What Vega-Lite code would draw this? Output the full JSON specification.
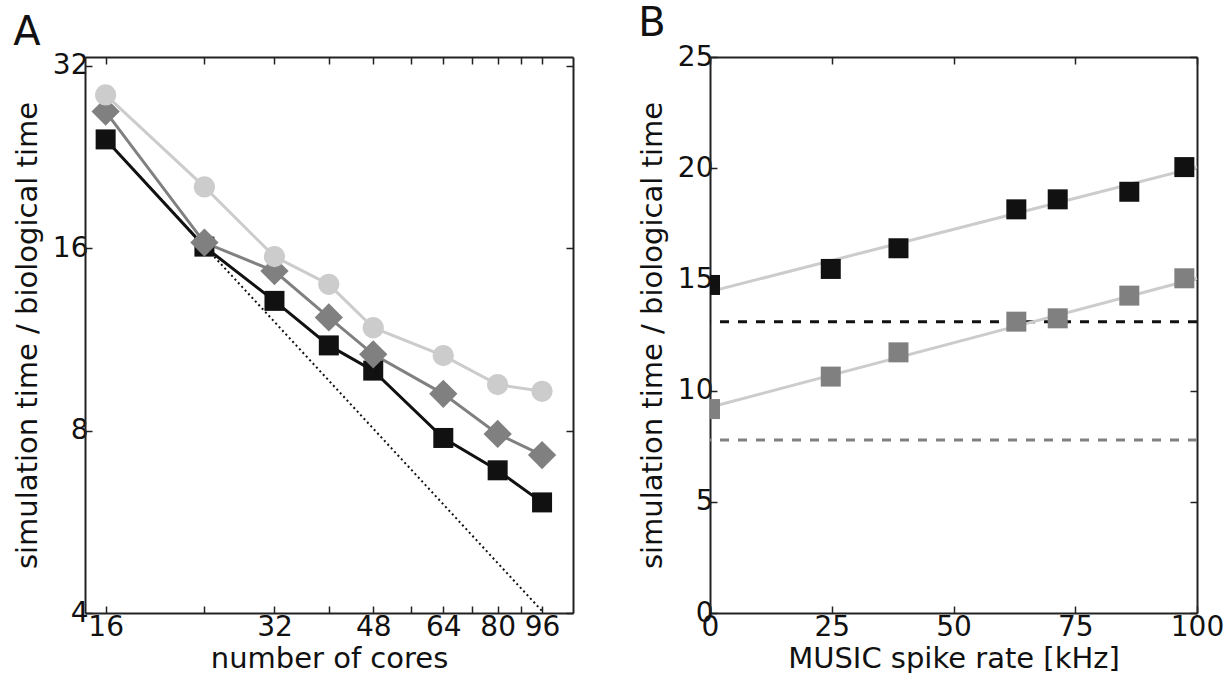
{
  "$schema": "https://vega.github.io/schema/vega-lite/v6.json",
  "padding": {"left": 13, "top": 4, "right": 4, "bottom": 0},
  "spacing": 64,
  "config": {
    "font": "DejaVu Sans",
    "view": {"stroke": null},
    "axis": {
      "labelFontSize": 28,
      "titleFontSize": 29,
      "titleFontWeight": "normal",
      "labelColor": "#111111",
      "titleColor": "#111111",
      "domainColor": "#222222",
      "domainWidth": 2,
      "tickColor": "#222222",
      "tickWidth": 1.5,
      "tickSize": -7,
      "labelPadding": 4,
      "grid": false,
      "zindex": 1
    },
    "title": {"fontSize": 40, "fontWeight": "normal", "color": "#111111", "anchor": "start", "frame": "bounds", "baseline": "alphabetic", "offset": -1}
  },
  "hconcat": [
    {
      "title": "A",
      "width": 488,
      "height": 556,
      "layer": [
        {
          "data": {"values": [{"cores": 16, "ratio": 24.2}, {"cores": 96, "ratio": 4.03}]},
          "mark": {"type": "line", "color": "#111111", "strokeWidth": 2, "strokeDash": [2, 3]},
          "encoding": {
            "x": {"field": "cores", "type": "quantitative", "scale": {"type": "log", "base": 2, "domain": [14.7, 109], "nice": false},
              "axis": {"orient": "bottom", "values": [16, 24, 32, 40, 48, 56, 64, 72, 80, 88, 96], "format": "d", "labelExpr": "datum.value % 16 == 0 ? datum.label : ''", "title": "number of cores", "titlePadding": 3, "labelPadding": 7, "labelFlush": false, "labelOverlap": false}},
            "y": {"field": "ratio", "type": "quantitative", "scale": {"type": "log", "base": 2, "domain": [4, 33.1], "nice": false},
              "axis": {"orient": "left", "values": [4, 8, 16, 32], "format": "d", "title": "simulation time / biological time", "titlePadding": 10, "labelOverlap": false}}
          }
        },
        {
          "data": {"values": [
            {"cores": 16, "ratio": 24.2, "series": "s1"}, {"cores": 24, "ratio": 16.1, "series": "s1"}, {"cores": 32, "ratio": 13.1, "series": "s1"}, {"cores": 40, "ratio": 11.06, "series": "s1"}, {"cores": 48, "ratio": 10.05, "series": "s1"}, {"cores": 64, "ratio": 7.78, "series": "s1"}, {"cores": 80, "ratio": 6.88, "series": "s1"}, {"cores": 96, "ratio": 6.09, "series": "s1"},
            {"cores": 16, "ratio": 26.9, "series": "s2"}, {"cores": 24, "ratio": 16.35, "series": "s2"}, {"cores": 32, "ratio": 14.67, "series": "s2"}, {"cores": 40, "ratio": 12.3, "series": "s2"}, {"cores": 48, "ratio": 10.69, "series": "s2"}, {"cores": 64, "ratio": 9.2, "series": "s2"}, {"cores": 80, "ratio": 7.9, "series": "s2"}, {"cores": 96, "ratio": 7.29, "series": "s2"},
            {"cores": 16, "ratio": 28.66, "series": "s3"}, {"cores": 24, "ratio": 20.2, "series": "s3"}, {"cores": 32, "ratio": 15.5, "series": "s3"}, {"cores": 40, "ratio": 13.95, "series": "s3"}, {"cores": 48, "ratio": 11.83, "series": "s3"}, {"cores": 64, "ratio": 10.64, "series": "s3"}, {"cores": 80, "ratio": 9.53, "series": "s3"}, {"cores": 96, "ratio": 9.29, "series": "s3"}
          ]},
          "layer": [
            {
              "mark": {"type": "line", "strokeWidth": 3},
              "encoding": {
                "x": {"field": "cores", "type": "quantitative", "scale": {"type": "log", "base": 2, "domain": [14.7, 109], "nice": false}, "axis": null},
                "y": {"field": "ratio", "type": "quantitative", "scale": {"type": "log", "base": 2, "domain": [4, 33.1], "nice": false}, "axis": null},
                "color": {"field": "series", "type": "nominal", "scale": {"domain": ["s1", "s2", "s3"], "range": ["#111111", "#808080", "#cccccc"]}, "legend": null},
                "detail": {"field": "series"}
              }
            },
            {
              "transform": [{"filter": "datum.series == 's1'"}],
              "mark": {"type": "point", "filled": true, "opacity": 1, "shape": "square", "size": 400, "color": "#111111"},
              "encoding": {
                "x": {"field": "cores", "type": "quantitative", "scale": {"type": "log", "base": 2, "domain": [14.7, 109], "nice": false}, "axis": null},
                "y": {"field": "ratio", "type": "quantitative", "scale": {"type": "log", "base": 2, "domain": [4, 33.1], "nice": false}, "axis": null}
              }
            },
            {
              "transform": [{"filter": "datum.series == 's2'"}],
              "mark": {"type": "point", "filled": true, "opacity": 1, "shape": "diamond", "size": 800, "color": "#808080"},
              "encoding": {
                "x": {"field": "cores", "type": "quantitative", "scale": {"type": "log", "base": 2, "domain": [14.7, 109], "nice": false}, "axis": null},
                "y": {"field": "ratio", "type": "quantitative", "scale": {"type": "log", "base": 2, "domain": [4, 33.1], "nice": false}, "axis": null}
              }
            },
            {
              "transform": [{"filter": "datum.series == 's3'"}],
              "mark": {"type": "point", "filled": true, "opacity": 1, "shape": "circle", "size": 450, "color": "#cccccc"},
              "encoding": {
                "x": {"field": "cores", "type": "quantitative", "scale": {"type": "log", "base": 2, "domain": [14.7, 109], "nice": false},
                  "axis": {"orient": "top", "values": [16, 24, 32, 40, 48, 56, 64, 72, 80, 88, 96], "labels": false, "title": null}},
                "y": {"field": "ratio", "type": "quantitative", "scale": {"type": "log", "base": 2, "domain": [4, 33.1], "nice": false},
                  "axis": {"orient": "right", "values": [4, 8, 16, 32], "labels": false, "title": null}}
              }
            }
          ],
          "resolve": {"axis": {"x": "independent", "y": "independent"}}
        }
      ],
      "resolve": {"axis": {"x": "independent", "y": "independent"}}
    },
    {
      "title": "B",
      "width": 487,
      "height": 556,
      "layer": [
        {
          "data": {"values": [{"level": 13.1, "series": "s1"}, {"level": 7.78, "series": "s2"}]},
          "mark": {"type": "rule", "strokeWidth": 3, "strokeDash": [9, 9]},
          "encoding": {
            "y": {"field": "level", "type": "quantitative", "scale": {"domain": [0, 25], "nice": false}, "axis": null},
            "color": {"field": "series", "type": "nominal", "scale": {"domain": ["s1", "s2"], "range": ["#111111", "#808080"]}, "legend": null}
          }
        },
        {
          "data": {"values": [
            {"rate": 0, "ratio": 14.45, "series": "s1"}, {"rate": 100, "ratio": 20.05, "series": "s1"},
            {"rate": 0, "ratio": 9.25, "series": "s2"}, {"rate": 100, "ratio": 15.05, "series": "s2"}
          ]},
          "mark": {"type": "line", "color": "#cccccc", "strokeWidth": 3},
          "encoding": {
            "x": {"field": "rate", "type": "quantitative", "scale": {"domain": [0, 100], "nice": false},
              "axis": {"orient": "bottom", "values": [0, 25, 50, 75, 100], "title": "MUSIC spike rate [kHz]", "titlePadding": 3, "labelPadding": 7, "labelFlush": false, "labelOverlap": false}},
            "y": {"field": "ratio", "type": "quantitative", "scale": {"domain": [0, 25], "nice": false},
              "axis": {"orient": "left", "values": [0, 5, 10, 15, 20, 25], "title": "simulation time / biological time", "titlePadding": 10, "labelOverlap": false}},
            "detail": {"field": "series"}
          }
        },
        {
          "data": {"values": [
            {"rate": 0, "ratio": 14.75, "series": "s1"}, {"rate": 24.8, "ratio": 15.47, "series": "s1"}, {"rate": 38.7, "ratio": 16.4, "series": "s1"}, {"rate": 62.9, "ratio": 18.15, "series": "s1"}, {"rate": 71.4, "ratio": 18.6, "series": "s1"}, {"rate": 86.1, "ratio": 18.94, "series": "s1"}, {"rate": 97.4, "ratio": 20.05, "series": "s1"},
            {"rate": 0, "ratio": 9.17, "series": "s2"}, {"rate": 24.8, "ratio": 10.63, "series": "s2"}, {"rate": 38.7, "ratio": 11.72, "series": "s2"}, {"rate": 62.9, "ratio": 13.1, "series": "s2"}, {"rate": 71.4, "ratio": 13.25, "series": "s2"}, {"rate": 86.1, "ratio": 14.27, "series": "s2"}, {"rate": 97.4, "ratio": 15.05, "series": "s2"}
          ]},
          "mark": {"type": "point", "filled": true, "opacity": 1, "shape": "square", "size": 400, "clip": true},
          "encoding": {
            "x": {"field": "rate", "type": "quantitative", "scale": {"domain": [0, 100], "nice": false},
              "axis": {"orient": "top", "values": [0, 25, 50, 75, 100], "labels": false, "title": null}},
            "y": {"field": "ratio", "type": "quantitative", "scale": {"domain": [0, 25], "nice": false},
              "axis": {"orient": "right", "values": [0, 5, 10, 15, 20, 25], "labels": false, "title": null}},
            "color": {"field": "series", "type": "nominal", "scale": {"domain": ["s1", "s2"], "range": ["#111111", "#808080"]}, "legend": null}
          }
        }
      ],
      "resolve": {"axis": {"x": "independent", "y": "independent"}}
    }
  ]
}
